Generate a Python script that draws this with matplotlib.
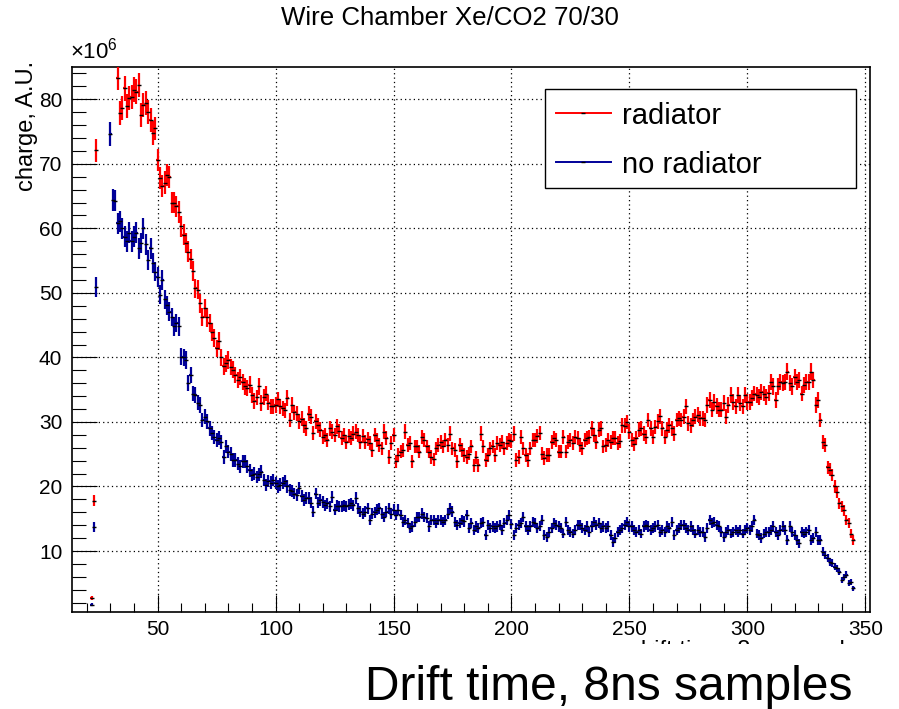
import numpy as np
import matplotlib
matplotlib.use('Agg')
import matplotlib.pyplot as plt
from matplotlib.lines import Line2D
from matplotlib.patches import Rectangle
from matplotlib.ticker import MultipleLocator

plt.rcParams['font.family'] = ['Liberation Sans', 'DejaVu Sans']
plt.rcParams['mathtext.fontset'] = 'custom'
plt.rcParams['mathtext.rm'] = 'Liberation Sans'

nan = np.nan
first_bin = 22

# charge (x10^6 A.U.) per 8 ns sample, starting at sample 22
radiator = [
    2.7, 17.8, 72.1,                                              # 22-24
    nan, nan, nan, nan, nan,                                      # 25-29
    nan, nan, nan, 83.3, 77.9, 78.6, 81.7, 79.0, 80.2, 80.4,      # 30
    81.5, 81.2, 82.2, 77.6, 79.1, 79.4, 78.1, 76.8, 74.8, 75.5,   # 40
    70.6, 67.8, 66.5, 67.1, 68.3, 68.0, 64.0, 64.0, 63.4, 62.5,   # 50
    60.3, 59.0, 57.7, 56.4, 55.2, 53.4, 50.7, 50.5, 48.4, 46.3,   # 60
    47.6, 46.2, 45.3, 44.0, 43.0, 41.4, 42.5, 40.0, 38.6, 39.1,   # 70
    39.6, 38.5, 38.1, 37.3, 36.5, 37.0, 36.2, 35.5, 35.2, 35.8,   # 80
    34.2, 33.2, 33.8, 35.5, 32.9, 33.9, 34.4, 33.0, 32.4, 32.4,   # 90
    32.6, 33.5, 32.4, 32.1, 31.8, 33.7, 30.3, 32.6, 31.5, 31.3,   # 100
    30.1, 30.5, 29.5, 29.0, 31.3, 30.8, 28.3, 30.1, 29.5, 28.8,   # 110
    27.7, 28.0, 27.2, 29.0, 28.5, 28.0, 29.3, 28.6, 27.5, 28.0,   # 120
    26.9, 27.8, 27.5, 28.2, 28.5, 28.0, 26.9, 27.8, 26.9, 27.3,   # 130
    26.7, 25.7, 28.0, 27.2, 26.4, 25.9, 28.5, 27.5, 24.6, 26.8,   # 140
    28.0, 23.9, 24.9, 25.4, 25.7, 28.5, 26.4, 26.7, 23.9, 26.2,   # 150
    26.2, 25.4, 27.7, 27.2, 26.2, 25.4, 24.6, 24.2, 25.9, 26.4,   # 160
    26.9, 26.2, 27.2, 26.5, 28.2, 25.9, 25.7, 23.9, 26.4, 25.7,   # 170
    24.9, 24.6, 25.1, 26.2, 23.3, 24.5, 23.3, 28.2, 26.2, 24.1,   # 180
    24.9, 25.9, 26.2, 24.9, 26.7, 26.4, 26.9, 25.9, 26.7, 27.2,   # 190
    27.0, 28.2, 24.1, 24.6, 27.7, 25.9, 24.9, 24.1, 25.9, 27.2,   # 200
    27.2, 27.8, 28.3, 25.1, 24.4, 24.9, 24.9, 26.9, 27.5, 27.2,   # 210
    25.4, 25.4, 27.7, 25.4, 26.9, 27.2, 26.7, 27.7, 27.5, 26.5,   # 220
    25.9, 27.2, 27.5, 27.7, 29.0, 28.0, 26.9, 28.8, 29.0, 26.2,   # 230
    26.4, 27.2, 26.9, 27.5, 27.5, 26.7, 27.0, 29.5, 29.4, 30.0,   # 240
    28.5, 27.2, 26.6, 27.5, 28.8, 29.0, 28.2, 27.7, 30.3, 29.0,   # 250
    27.7, 29.2, 30.1, 30.9, 29.0, 27.7, 28.8, 29.5, 29.0, 28.2,   # 260
    30.3, 30.6, 30.3, 30.8, 32.4, 29.8, 29.5, 30.3, 30.8, 31.1,   # 270
    30.6, 30.6, 30.3, 32.6, 33.4, 31.9, 33.1, 32.5, 31.9, 31.9,   # 280
    32.9, 30.8, 32.6, 34.2, 33.1, 32.4, 34.2, 32.9, 32.4, 34.2,   # 290
    33.1, 33.1, 33.7, 34.4, 34.2, 33.9, 34.7, 34.4, 33.9, 34.5,   # 300
    36.2, 35.5, 33.4, 35.5, 36.2, 36.0, 36.2, 37.8, 36.0, 35.5,   # 310
    37.0, 36.2, 36.5, 34.4, 35.7, 36.2, 36.2, 37.8, 36.5, 32.6,   # 320
    33.4, 30.3, 26.9, 26.4, 23.0, 22.6, 21.8, 20.0, 19.2, 17.4,   # 330
    16.9, 16.3, 14.8, 14.3, 12.7, 11.7,                           # 340-345
]

no_radiator = [
    1.7, 13.7, 50.9,                                              # 22-24
    nan, nan, nan, nan, nan,                                      # 25-29
    74.6, 64.4, 64.3, 60.8, 61.1, 60.0, 58.7, 58.0, 59.3, 58.0,   # 30
    58.7, 59.3, 56.9, 57.7, 60.0, 57.5, 55.1, 56.9, 54.6, 53.3,   # 40
    52.5, 49.7, 52.0, 49.0, 48.1, 47.1, 46.3, 44.8, 45.3, 44.8,   # 50
    40.1, 40.0, 39.6, 36.0, 37.3, 34.4, 34.2, 33.0, 32.6, 30.3,   # 60
    30.8, 30.1, 29.0, 28.3, 27.7, 27.2, 27.5, 26.9, 24.6, 26.2,   # 70
    25.4, 25.0, 24.1, 24.1, 23.5, 23.1, 23.9, 23.9, 23.1, 22.5,   # 80
    21.8, 22.0, 21.5, 21.9, 22.3, 21.0, 20.2, 20.8, 20.6, 21.0,   # 90
    20.5, 20.0, 20.3, 20.5, 20.8, 20.0, 19.5, 19.3, 18.9, 18.7,   # 100
    19.7, 18.5, 17.9, 18.2, 18.2, 17.5, 16.1, 18.9, 17.5, 17.9,   # 110
    17.6, 17.1, 17.4, 16.9, 18.4, 16.4, 17.0, 16.9, 16.9, 17.1,   # 120
    16.9, 17.2, 17.4, 17.1, 18.2, 16.6, 16.1, 15.8, 16.1, 16.6,   # 130
    14.8, 15.8, 16.0, 16.4, 16.6, 15.8, 15.3, 16.1, 16.6, 15.8,   # 140
    16.4, 15.6, 16.4, 15.6, 14.5, 14.8, 14.3, 13.5, 13.8, 14.5,   # 150
    15.3, 15.3, 15.8, 15.3, 15.1, 13.8, 14.8, 14.8, 14.3, 14.8,   # 160
    14.8, 14.5, 14.8, 15.8, 16.6, 16.1, 14.5, 14.0, 14.3, 14.8,   # 170
    14.6, 15.6, 13.5, 14.3, 13.3, 13.8, 13.5, 14.3, 14.5, 12.5,   # 180
    14.0, 13.5, 13.8, 13.5, 13.8, 14.0, 13.3, 14.3, 14.8, 15.6,   # 190
    14.2, 12.5, 13.5, 14.0, 14.3, 15.3, 13.8, 13.3, 13.8, 14.5,   # 200
    14.3, 13.5, 13.9, 14.8, 12.5, 12.2, 13.0, 13.5, 14.3, 14.0,   # 210
    13.8, 13.5, 12.7, 14.5, 13.2, 13.0, 12.7, 13.2, 14.0, 14.0,   # 220
    13.6, 13.2, 13.8, 13.0, 13.8, 14.5, 14.0, 14.3, 13.5, 13.8,   # 230
    13.5, 13.8, 12.5, 11.4, 12.0, 13.0, 13.2, 13.5, 14.0, 14.5,   # 240
    13.8, 13.8, 13.2, 13.0, 13.2, 12.7, 13.8, 14.0, 13.8, 13.2,   # 250
    13.5, 13.8, 14.0, 13.0, 13.2, 13.0, 13.8, 13.6, 14.5, 12.5,   # 260
    13.2, 13.5, 14.0, 14.0, 13.5, 13.2, 13.8, 13.2, 12.7, 13.2,   # 270
    13.0, 13.0, 12.2, 13.5, 14.8, 14.3, 14.5, 14.0, 13.8, 13.0,   # 280
    12.2, 13.0, 13.2, 12.7, 13.0, 13.2, 13.0, 13.2, 12.7, 13.2,   # 290
    13.5, 13.2, 13.8, 14.8, 12.7, 12.5, 12.0, 12.7, 13.0, 13.0,   # 300
    13.2, 13.8, 13.0, 12.5, 13.2, 13.8, 13.2, 11.7, 13.8, 13.0,   # 310
    12.5, 11.7, 11.2, 13.0, 12.7, 13.0, 13.2, 11.7, 12.0, 13.0,   # 320
    11.7, 11.7, 9.9, 9.4, 8.9, 8.3, 8.1, 7.6, 7.3, 6.8,           # 330
    5.5, 6.0, 6.3, 5.0, 5.2, 4.2,                                 # 340-345
]

series_labels = ['radiator', 'no radiator']
series_colors = ['#ff0000', '#000099']
x_ticks = [50, 100, 150, 200, 250, 300, 350]
y_ticks = [10, 20, 30, 40, 50, 60, 70, 80]

W, H = 899, 709
fig = plt.figure(figsize=(W / 100, H / 100), dpi=100)
fig.patch.set_facecolor('white')

def fx(px):
    return px / W

def fy(py):
    return 1 - py / H

ax = fig.add_axes([fx(72), fy(612), (870 - 72) / W, (612 - 67) / H])

for vals, col in zip([radiator, no_radiator], series_colors):
    v = np.array(vals, dtype=float)
    xb = np.arange(first_bin, first_bin + len(v))
    err = 0.21 * np.sqrt(v)
    ax.errorbar(xb, v, yerr=err, xerr=0.5, fmt='none', ecolor=col,
                elinewidth=1.6, capsize=0, zorder=3)
    ax.plot(xb, v, ls='none', marker='_', ms=2.5, mew=1.0, color='black', zorder=4)

ax.set_xlim(13.7, 352)
ax.set_ylim(0.55, 85.0)
ax.set_xticks(x_ticks)
ax.set_yticks(y_ticks)
ax.xaxis.set_minor_locator(MultipleLocator(10))
ax.yaxis.set_minor_locator(MultipleLocator(2))

ax.tick_params(axis='both', which='both', direction='in', top=False, right=False,
               width=0.8, color='black')
ax.tick_params(axis='y', which='major', length=18, labelsize=15, pad=7)
ax.tick_params(axis='y', which='minor', length=10)
ax.tick_params(axis='x', which='major', length=12, labelsize=15, pad=6)
ax.tick_params(axis='x', which='minor', length=6.5)

for s in ax.spines.values():
    s.set_linewidth(1.2)
    s.set_color('black')

ax.grid(True, which='major', color='black', linestyle=(0, (1, 2.5)), linewidth=0.9)
ax.set_axisbelow(True)

# texts
fig.text(fx(450), fy(18), 'Wire Chamber Xe/CO2 70/30', ha='center', va='center', fontsize=18.6)
fig.text(fx(27), fy(61), 'charge, A.U.', rotation=90, ha='center', va='top', fontsize=17)
fig.text(fx(70), fy(63), r'$\times$10$^{6}$', ha='left', va='bottom', fontsize=16)

# original (mostly hidden) axis title
fig.text(fx(870), fy(640), 'drift time, 8ns samples', ha='right', va='top', fontsize=17)
fig.add_artist(Rectangle((fx(330), 0), (W - 330) / W, (H - 644) / H,
                         transform=fig.transFigure, facecolor='white',
                         edgecolor='none', zorder=5))
fig.text(fx(365), fy(700), 'Drift time, 8ns samples', ha='left', va='baseline',
         fontsize=34.5, zorder=6)

# legend
fig.add_artist(Rectangle((fx(545), fy(188)), (856 - 545) / W, (188 - 89) / H,
                         transform=fig.transFigure, facecolor='white',
                         edgecolor='black', linewidth=1.0, zorder=7))
for lab, col, py in zip(series_labels, series_colors, [113.3, 162.3]):
    fig.add_artist(Line2D([fx(556), fx(611)], [fy(py), fy(py)], color=col,
                          linewidth=1.4, transform=fig.transFigure, zorder=8))
    fig.add_artist(Line2D([fx(583)], [fy(py)], marker='_', ms=2.5, mew=1.0,
                          color='black', transform=fig.transFigure, zorder=9))
    fig.text(fx(622), fy(py), lab, ha='left', va='center_baseline', fontsize=21, zorder=9)

fig.savefig('out.png', dpi=100)
